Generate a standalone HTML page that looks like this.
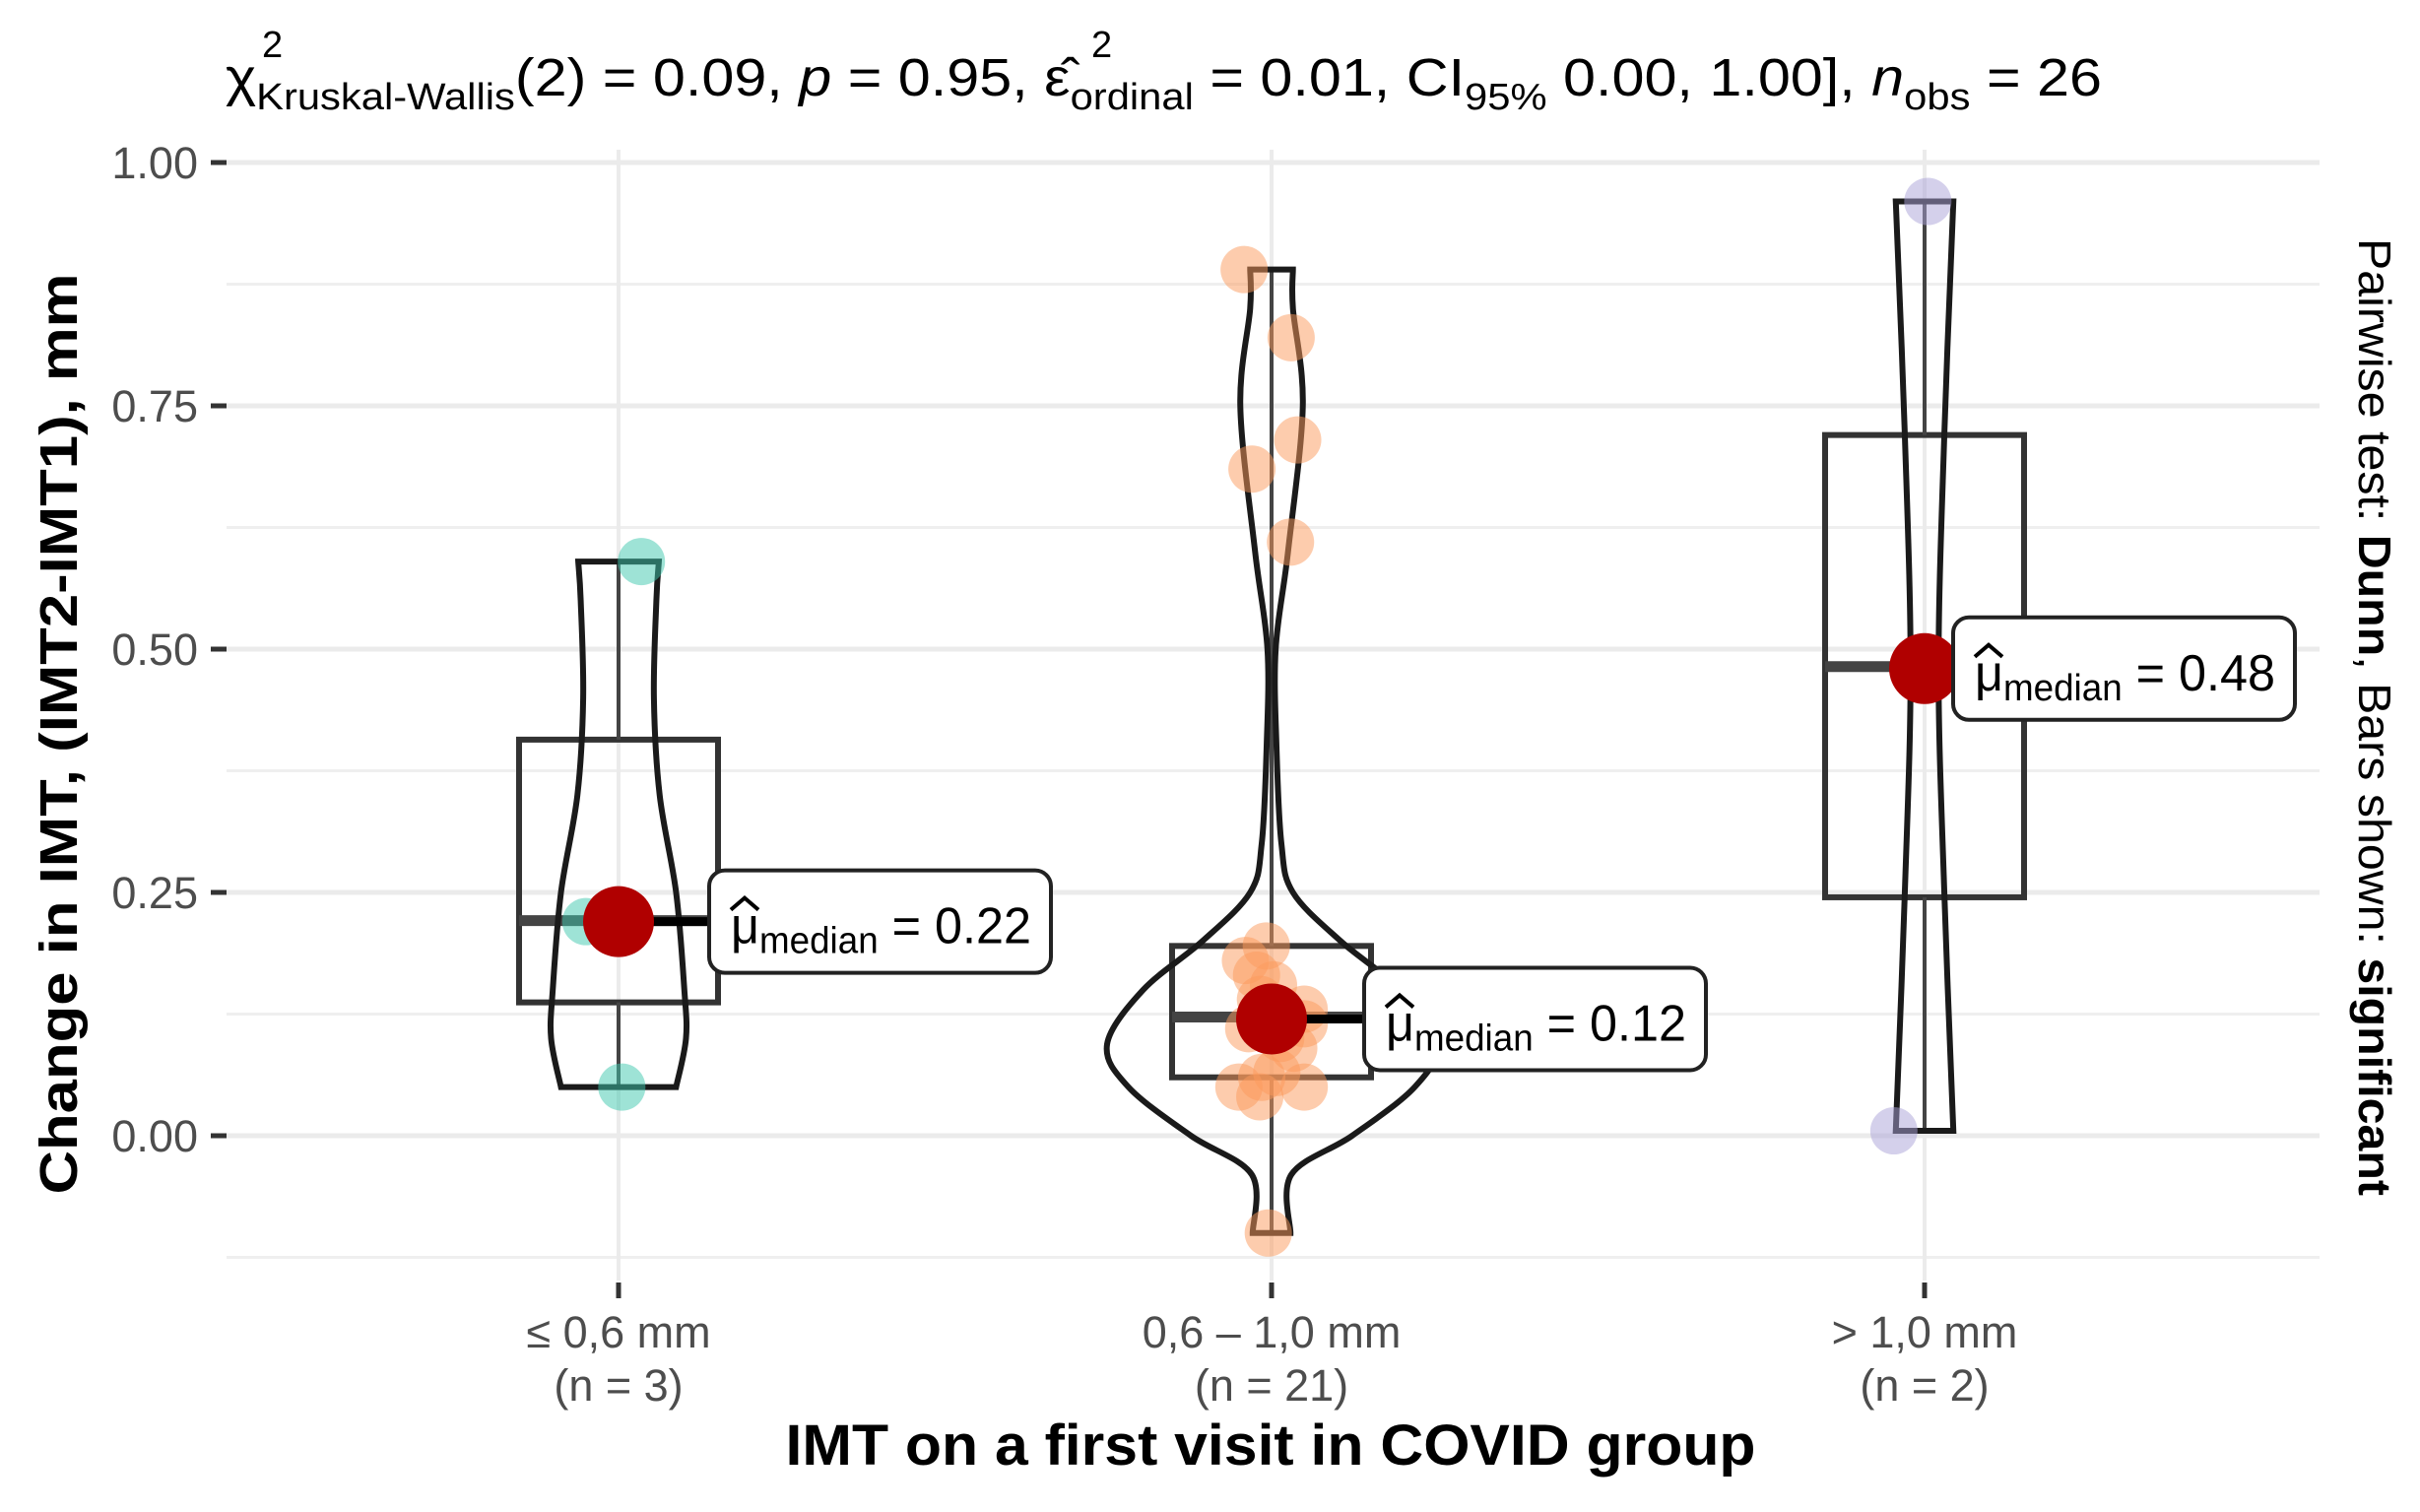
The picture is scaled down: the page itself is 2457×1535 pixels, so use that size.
<!DOCTYPE html>
<html><head><meta charset="utf-8">
<style>
html,body{margin:0;padding:0;background:#fff;}
svg{display:block;font-family:"Liberation Sans",Arial,sans-serif;}
</style></head>
<body>
<svg id="chart" width="2457" height="1535" viewBox="0 0 2457 1535" xmlns="http://www.w3.org/2000/svg">
<rect width="2457" height="1535" fill="#fff"/>
<g id="grid"></g>
<g id="marks"></g>
<g id="axes"></g>
<text x="229" y="97" font-size="54" fill="#000" textLength="1905" lengthAdjust="spacingAndGlyphs">χ<tspan font-size="38" dy="14">Kruskal-Wallis</tspan><tspan dy="-14">(2) = 0.09, </tspan><tspan font-style="italic">p</tspan><tspan> = 0.95, ε̂</tspan><tspan font-size="38" dy="14">ordinal</tspan><tspan dy="-14"> = 0.01, CI</tspan><tspan font-size="38" dy="14">95%</tspan><tspan dy="-14"> 0.00, 1.00], </tspan><tspan font-style="italic">n</tspan><tspan font-size="38" dy="14">obs</tspan><tspan dy="-14"> = 26</tspan></text>
<text x="266" y="58" font-size="38">2</text>
<text x="1108" y="58" font-size="38">2</text>
<text transform="translate(78,745) rotate(-90)" text-anchor="middle" font-size="54" font-weight="bold" textLength="935" lengthAdjust="spacingAndGlyphs">Change in IMT, (IMT2-IMT1), mm</text>
<text x="1290" y="1487" text-anchor="middle" font-size="58" font-weight="bold" textLength="985" lengthAdjust="spacingAndGlyphs">IMT on a first visit in COVID group</text>
<text transform="translate(2395,728) rotate(90)" text-anchor="middle" font-size="46" textLength="972" lengthAdjust="spacingAndGlyphs">Pairwise test: <tspan font-weight="bold">Dunn</tspan>, Bars shown: <tspan font-weight="bold">significant</tspan></text>
</svg>
<script>
const categories = ["≤ 0,6 mm", "0,6 – 1,0 mm", "> 1,0 mm"];
const groupN = [3, 21, 2];
const yTicks = [0, 0.25, 0.5, 0.75, 1.0];
const yTickLabels = ["0.00", "0.25", "0.50", "0.75", "1.00"];
const yMinor = [-0.125, 0.125, 0.375, 0.625, 0.875];
const colors = ["#3ec7ad", "#fb9a5c", "#a9a2d8"];
const boxQ1 = [0.137, 0.06, 0.245];
const boxMed = [0.221, 0.122, 0.482];
const boxQ3 = [0.407, 0.195, 0.72];
const whiskLo = [0.05, -0.1, 0.005];
const whiskHi = [0.59, 0.89, 0.96];
const medians = [0.22, 0.12, 0.48];
const medianLabels = ["0.22", "0.12", "0.48"];
const violinY1 = [0.05, 0.1, 0.15, 0.25, 0.35, 0.45, 0.55, 0.59];
const violinW1 = [0.35, 0.41, 0.40, 0.35, 0.25, 0.215, 0.23, 0.245];
const violinY2 = [-0.1, -0.04, 0.0, 0.05, 0.094, 0.15, 0.2, 0.25, 0.3, 0.4, 0.5, 0.6, 0.75, 0.85, 0.89];
const violinW2 = [0.115, 0.12, 0.49, 0.87, 1.0, 0.78, 0.42, 0.13, 0.06, 0.03, 0.025, 0.1, 0.19, 0.13, 0.13];
const violinY3 = [0.005, 0.25, 0.48, 0.72, 0.96];
const violinW3 = [0.175, 0.12, 0.085, 0.12, 0.175];
const ptGroup = [0,0,0, 1,1,1,1,1,1,1,1,1,1,1,1,1,1,1,1,1,1,1,1,1, 2,2];
const ptValue = [0.59,0.05,0.22, 0.89,0.82,0.715,0.685,0.61,0.195,0.18,0.165,0.13,0.1,0.115,0.05,0.04,0.065,0.05,0.06,0.09,0.11,-0.1,0.14,0.155, 0.005,0.96];
const ptJitter = [0.035,0.005,-0.05, -0.042,0.03,0.04,-0.03,0.029,-0.008,-0.04,-0.023,0.05,0.014,0.05,-0.05,-0.018,0.008,0.05,-0.015,0.034,-0.035,-0.005,-0.017,0.003, -0.047,0.005];

const NS='http://www.w3.org/2000/svg';
const X0=628, XSTEP=663, Y0=1153, YSCALE=988, PL=230, PR=2355, PT=152, PB=1300;
const VMAX=167, BOXHALF=101;
function xScale(i){return X0+i*XSTEP;}
function yScale(v){return Y0-v*YSCALE;}
function mk(tag,parent,attrs){const e=document.createElementNS(NS,tag);for(const k in attrs)e.setAttribute(k,attrs[k]);parent.appendChild(e);return e;}
const grid=document.getElementById('grid'), marks=document.getElementById('marks'), axes=document.getElementById('axes');

yMinor.forEach(v=>{const l=mk('line',grid,{x1:PL,x2:PR,y1:yScale(v),y2:yScale(v),stroke:'#efefef','stroke-width':3});

});
yTicks.forEach((v,i)=>{const l=mk('line',grid,{x1:PL,x2:PR,y1:yScale(v),y2:yScale(v),stroke:'#ebebeb','stroke-width':5});


const t=mk('line',axes,{x1:214,x2:230,y1:yScale(v),y2:yScale(v),stroke:'#333','stroke-width':5});


const tx=mk('text',axes,{x:201,y:yScale(v)+16,'text-anchor':'end','font-size':45,fill:'#4d4d4d'});
tx.textContent=yTickLabels[i];

});
categories.forEach((c,i)=>{const x=xScale(i);
const l=mk('line',grid,{x1:x,x2:x,y1:PT,y2:PB,stroke:'#ebebeb','stroke-width':4});


const t=mk('line',axes,{x1:x,x2:x,y1:1302,y2:1318,stroke:'#333','stroke-width':5});


const t1=mk('text',axes,{x:x,y:1368,'text-anchor':'middle','font-size':45,fill:'#4d4d4d'});
t1.textContent=c;


const t2=mk('text',axes,{x:x,y:1422,'text-anchor':'middle','font-size':45,fill:'#4d4d4d'});
t2.textContent='(n = '+groupN[i]+')';

});

function curve(pts){let d='M'+pts[0][0]+','+pts[0][1];
for(let i=0;i<pts.length-1;i++){const p0=pts[Math.max(i-1,0)],p1=pts[i],p2=pts[i+1],p3=pts[Math.min(i+2,pts.length-1)];
d+=' C'+(p1[0]+(p2[0]-p0[0])/6)+','+(p1[1]+(p2[1]-p0[1])/6)+' '+(p2[0]-(p3[0]-p1[0])/6)+','+(p2[1]-(p3[1]-p1[1])/6)+' '+p2[0]+','+p2[1];}
return d;}
const vY=[violinY1,violinY2,violinY3], vW=[violinW1,violinW2,violinW3];
categories.forEach((c,i)=>{const cx=xScale(i);
const bx=mk('rect',marks,{x:cx-BOXHALF,y:yScale(boxQ3[i]),width:2*BOXHALF,height:yScale(boxQ1[i])-yScale(boxQ3[i]),fill:'none',stroke:'#333','stroke-width':6});


const w1=mk('line',marks,{x1:cx,x2:cx,y1:yScale(boxQ3[i]),y2:yScale(whiskHi[i]),stroke:'#444','stroke-width':4});


const w2=mk('line',marks,{x1:cx,x2:cx,y1:yScale(boxQ1[i]),y2:yScale(whiskLo[i]),stroke:'#444','stroke-width':4});


const ml=mk('line',marks,{x1:cx-BOXHALF,x2:cx+BOXHALF,y1:yScale(boxMed[i]),y2:yScale(boxMed[i]),stroke:'#444','stroke-width':11});


const ys=vY[i], ws=vW[i];
const right=ys.map((y,k)=>[cx+ws[k]*VMAX,yScale(y)]);
const left=ys.map((y,k)=>[cx-ws[k]*VMAX,yScale(y)]).reverse();
let d=curve(right)+' L'+left[0][0]+','+left[0][1]+' '+curve(left).slice(1).replace(/^[^C]*/,'')+' Z';
const v=mk('path',marks,{d:d,fill:'none',stroke:'#1a1a1a','stroke-width':6});

});
ptValue.forEach((val,k)=>{const g=ptGroup[k];
const c=mk('circle',marks,{cx:xScale(g)+ptJitter[k]*XSTEP,cy:yScale(val),r:24,fill:colors[g],'fill-opacity':0.5});

});
const labelOff=[92,94,29];
medians.forEach((m,i)=>{const cx=xScale(i), cy=yScale(m);
const lx=cx+labelOff[i];
const seg=mk('line',marks,{x1:cx,x2:lx,y1:cy,y2:cy,stroke:'#000','stroke-width':9});


const dot=mk('circle',marks,{cx:cx,cy:cy,r:36,fill:'#b00000'});


const g=mk('g',marks,{});


mk('rect',g,{x:lx,y:cy-52,width:347,height:104,rx:16,fill:'#fff',stroke:'#222','stroke-width':4});
const t=mk('text',g,{x:lx+22,y:cy+22,'font-size':52,fill:'#000',textLength:305,lengthAdjust:'spacingAndGlyphs'});
t.innerHTML='μ<tspan font-size="38" dy="10">median</tspan><tspan dy="-10"> = '+medianLabels[i]+'</tspan>';
const hat=mk('path',g,{d:'M'+(lx+22)+','+(cy-12)+' l14,-12 l14,12',fill:'none',stroke:'#000','stroke-width':4});});
</script>
</body></html>
